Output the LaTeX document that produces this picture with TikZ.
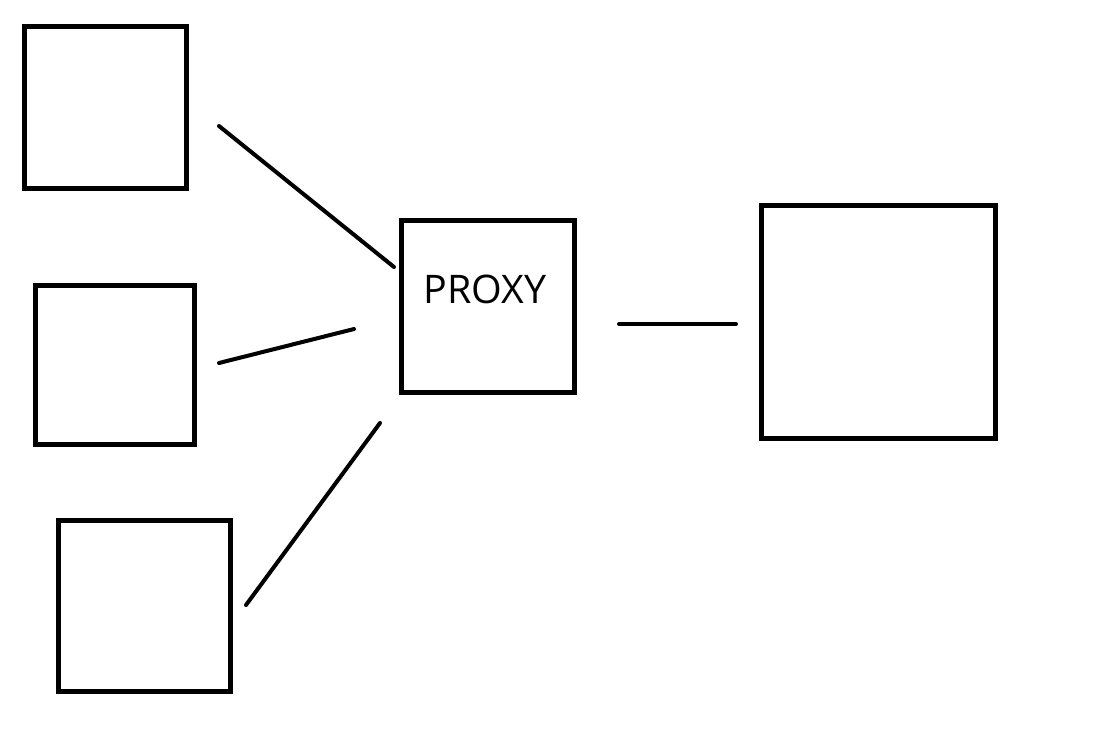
\documentclass[tikz,border=0pt]{standalone}
\usepackage{fontspec}
\setmainfont{Open Sans}
\begin{document}
\begin{tikzpicture}[x=0.01cm, y=-0.01cm, line width=0.05cm, line join=miter,
    box/.style={draw, fill=white, inner sep=0pt, outer sep=0pt},
    wire/.style={line width=0.04cm, line cap=round}]
    \useasboundingbox (0,0) rectangle (1103,730);
        \node[box, minimum width=1.62cm, minimum height=1.62cm] (client1) at (105.5, 107.5) {};
        \node[box, minimum width=1.58cm, minimum height=1.58cm] (client2) at (115, 365) {};
        \node[box, minimum width=1.71cm, minimum height=1.70cm] (client3) at (144.5, 606) {};
        \node[box, minimum width=1.73cm, minimum height=1.72cm] (proxy) at (488, 306.5) {};
        \node[font=\fontsize{11.2}{13}\selectfont, inner sep=0pt] (proxytext) at (485, 289) {PROXY};
        \node[box, minimum width=2.33cm, minimum height=2.32cm] (server) at (878.5, 322) {};
        % loose ends of the wires
        \coordinate (a1) at (219, 126);
        \coordinate (b1) at (394, 267);
        \coordinate (a2) at (219, 363);
        \coordinate (b2) at (354, 329);
        \coordinate (a3) at (246, 605);
        \coordinate (b3) at (380, 423);
        \coordinate (a4) at (619, 324);
        \coordinate (b4) at (736, 324);
        \draw[wire] (a1) -- (b1);
        \draw[wire] (a2) -- (b2);
        \draw[wire] (a3) -- (b3);
        \draw[wire] (a4) -- (b4);
    \end{tikzpicture}
\end{document}
